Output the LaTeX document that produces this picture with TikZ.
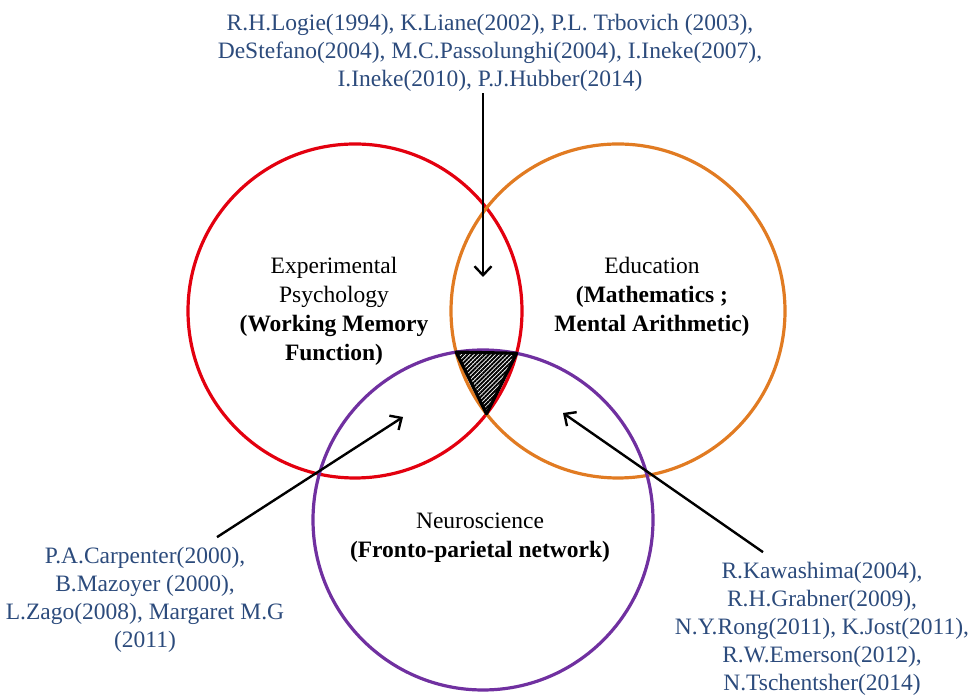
\documentclass[tikz,border=0pt]{standalone}
\usepackage{fontspec}
\setmainfont{Liberation Serif}
\usetikzlibrary{arrows.meta, patterns.meta}
\definecolor{psyred}{HTML}{E3000F}
\definecolor{eduorange}{HTML}{E17B22}
\definecolor{neuropurple}{HTML}{7030A0}
\definecolor{citeblue}{HTML}{2C4B7C}

\begin{document}
\begin{tikzpicture}[
  x=1pt, y=1pt,
  ring/.style={line width=3.2pt},
  field/.style={font=\fontsize{23.5}{29}\selectfont, align=center, inner sep=0pt},
  cite/.style={font=\fontsize{23.5}{28}\selectfont, text=citeblue, align=center, inner sep=2pt},
  pointer/.style={line width=2.4pt, -{Straight Barb[length=9pt, width=17pt, line width=2.4pt]}}
]
  \useasboundingbox (0,0) rectangle (980,695);

  %% ---- three circles -------------------------------------------------
  \draw[ring, psyred]      (355,384) circle[radius=167];
  \draw[ring, eduorange]   (618,384) circle[radius=167];
  \draw[ring, neuropurple] (483,175) circle[radius=170];

  %% ---- common region, hatched ----------------------------------------
  \coordinate (triL) at (456.1,342.9);
  \coordinate (triR) at (516.6,341.7);
  \coordinate (triB) at (486.5,281.1);
  \draw[line width=3.2pt, line join=round,
        pattern={Lines[angle=45, distance=3pt, line width=2pt]}]
    (triL) -- (triR) -- (triB) -- cycle;

  %% ---- field labels --------------------------------------------------
  \node[field] (psy) at (334,383.5)
    {Experimental\\Psychology\\\textbf{(Working Memory}\\\textbf{Function)}};
  \node[field] (edu) at (652,398)
    {Education\\\textbf{(Mathematics ;}\\\textbf{Mental Arithmetic)}};
  \node[field] (neuro) at (480,157)
    {Neuroscience\\\textbf{(Fronto-parietal network)}};

  %% ---- references ----------------------------------------------------
  \node[cite] (citeTop) at (490,642.5)
    {R.H.Logie(1994), K.Liane(2002), P.L. Trbovich (2003),\\
     DeStefano(2004), M.C.Passolunghi(2004), I.Ineke(2007),\\
     I.Ineke(2010), P.J.Hubber(2014)};
  \node[cite] (citeL) at (145,95)
    {P.A.Carpenter(2000),\\B.Mazoyer (2000),\\L.Zago(2008), Margaret M.G\\(2011)};
  \node[cite] (citeR) at (822,66)
    {R.Kawashima(2004),\\R.H.Grabner(2009),\\N.Y.Rong(2011), K.Jost(2011),\\
     R.W.Emerson(2012),\\N.Tschentsher(2014)};

  %% ---- arrows into the overlaps --------------------------------------
  \coordinate (tipTop) at (483,418);
  \coordinate (tipL)   at (403,278);
  \coordinate (tipR)   at (563,282);
  \draw[pointer] (citeTop.south -| tipTop) -- (tipTop);
  \draw[pointer] ([xshift=72pt, yshift=8pt]citeL.north) -- (tipL);
  \draw[pointer] ([xshift=-59pt, yshift=8pt]citeR.north) -- (tipR);

\end{tikzpicture}
\end{document}
